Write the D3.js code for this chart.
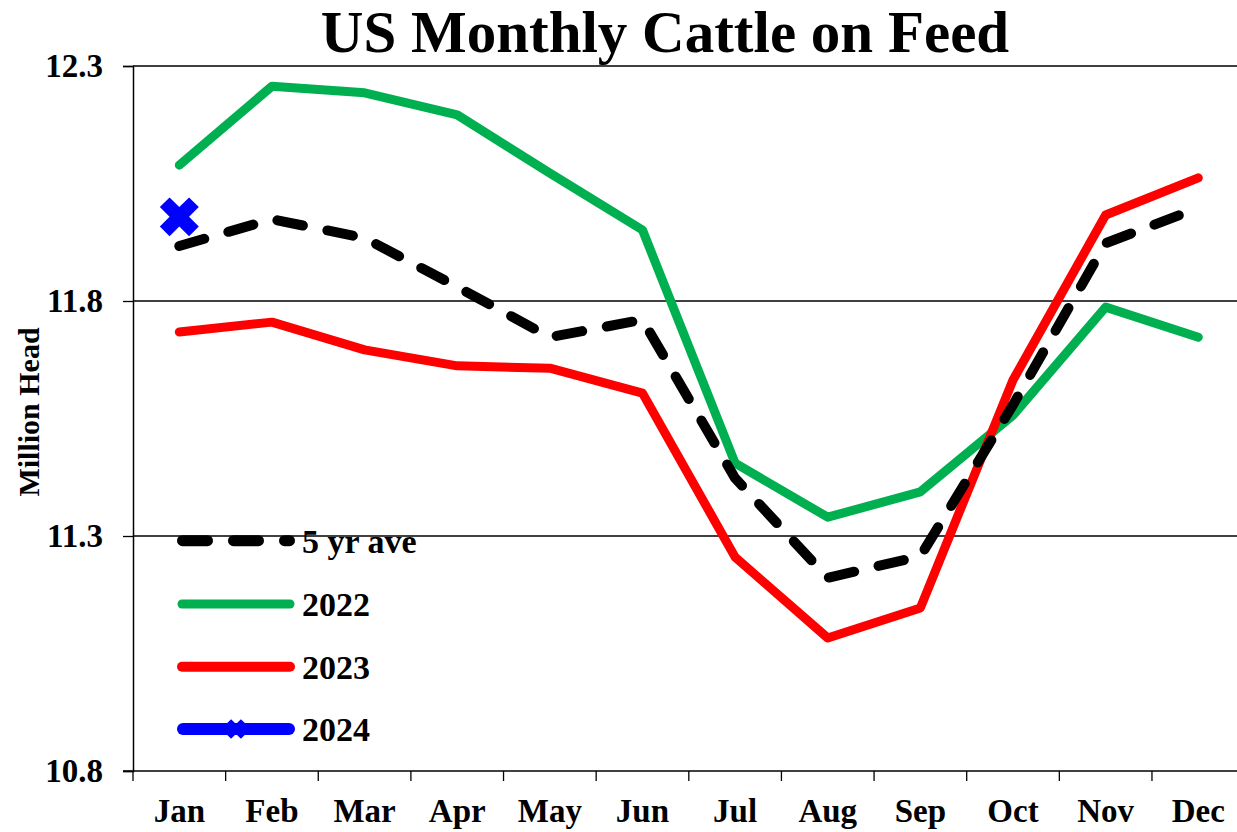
<!DOCTYPE html>
<html>
<head>
<meta charset="utf-8">
<script src="https://cdn.jsdelivr.net/npm/d3@7"></script>
<style>
  html, body { margin: 0; padding: 0; background: #fff; }
  svg { display: block; }
  text { font-family: "Liberation Serif", "Times New Roman", serif; font-weight: bold; fill: #000; }
</style>
</head>
<body>
<svg id="chart" width="1237" height="832"></svg>
<script>
const months = ["Jan","Feb","Mar","Apr","May","Jun","Jul","Aug","Sep","Oct","Nov","Dec"];
const yTicks = [10.8, 11.3, 11.8, 12.3];
const fiveYrAve = [11.917, 11.974, 11.934, 11.830, 11.723, 11.760, 11.423, 11.211, 11.257, 11.579, 11.923, 11.998];
const y2022 = [12.089, 12.257, 12.243, 12.196, 12.072, 11.951, 11.455, 11.340, 11.394, 11.557, 11.787, 11.723];
const y2023 = [11.734, 11.755, 11.696, 11.662, 11.657, 11.604, 11.255, 11.083, 11.147, 11.632, 11.983, 12.062];
const y2024 = [11.979];
const legendLabels = ["5 yr ave", "2022", "2023", "2024"];

(function () {
const svg = d3.select("#chart");
const W = 1237;
const pLeft = 133, pRight = 1244.6, pTop = 66, pBottom = 771;

const x = d3.scaleBand().domain(months).range([pLeft, pRight]).padding(0);
const cx = m => x(m) + x.bandwidth() / 2;
const y = d3.scaleLinear().domain([10.8, 12.3]).range([pBottom, pTop]);

// gridlines
svg.append("g").selectAll("line").data(yTicks.filter(v => v > 10.8)).join("line")
  .attr("x1", pLeft).attr("x2", W).attr("y1", d => y(d)).attr("y2", d => y(d))
  .attr("stroke", "#000").attr("stroke-width", 1.3);

// y axis
const yAxis = svg.append("g").attr("transform", `translate(${pLeft},0)`)
  .call(d3.axisLeft(y).tickValues(yTicks).tickSize(10).tickPadding(20).tickFormat(d3.format(".1f")));
yAxis.select(".domain").attr("stroke", "#000").attr("stroke-width", 1.5);
yAxis.selectAll(".tick line").attr("stroke", "#000").attr("stroke-width", 1.3);
yAxis.selectAll(".tick text").attr("font-size", 33).attr("font-family", null).attr("dy", "0.33em");

// x axis
const xAxis = svg.append("g").attr("transform", `translate(0,${pBottom})`)
  .call(d3.axisBottom(x).tickSize(0).tickPadding(0));
xAxis.select(".domain").remove();
xAxis.selectAll(".tick text").attr("font-size", 33).attr("font-family", null).attr("dy", null).attr("y", 51);
svg.append("line").attr("x1", pLeft - 10).attr("x2", W).attr("y1", pBottom).attr("y2", pBottom)
  .attr("stroke", "#000").attr("stroke-width", 1.5);
const edges = months.map(m => x(m)).concat([pRight]);
svg.append("g").selectAll("line").data(edges).join("line")
  .attr("x1", d => d).attr("x2", d => d).attr("y1", pBottom).attr("y2", pBottom + 10)
  .attr("stroke", "#000").attr("stroke-width", 1.3);

// y axis title
svg.append("text").attr("transform", `translate(39,412) rotate(-90)`)
  .attr("text-anchor", "middle").attr("font-size", 30).text("Million Head");

// title
svg.append("text").attr("x", 665).attr("y", 52).attr("text-anchor", "middle")
  .attr("font-size", 59).text("US Monthly Cattle on Feed");

const line = d3.line().x((d, i) => cx(months[i])).y(d => y(d));

svg.append("path").datum(y2022).attr("d", line).attr("fill", "none")
  .attr("stroke", "#00B050").attr("stroke-width", 9).attr("stroke-linejoin", "round").attr("stroke-linecap", "round");
svg.append("path").datum(y2023).attr("d", line).attr("fill", "none")
  .attr("stroke", "#FF0000").attr("stroke-width", 9).attr("stroke-linejoin", "round").attr("stroke-linecap", "round");
svg.append("path").datum(fiveYrAve).attr("d", line).attr("fill", "none")
  .attr("stroke", "#000").attr("stroke-width", 10).attr("stroke-dasharray", "26 25")
  .attr("stroke-linejoin", "round").attr("stroke-linecap", "round");

const xMark = d3.symbol().type(d3.symbolCross);
svg.append("g").selectAll("path").data(y2024).join("path")
  .attr("d", xMark.size(950)())
  .attr("transform", (d, i) => `translate(${cx(months[i])},${y(d)}) rotate(45)`)
  .attr("fill", "#0000FF");

// legend
const legY = [540.7, 604, 666.7, 729];
const lg = svg.append("g");
lg.append("line").attr("x1", 182.5).attr("x2", 289.5).attr("y1", legY[0]).attr("y2", legY[0])
  .attr("stroke", "#000").attr("stroke-width", 11).attr("stroke-dasharray", "25 26").attr("stroke-linecap", "round");
lg.append("line").attr("x1", 182).attr("x2", 290).attr("y1", legY[1]).attr("y2", legY[1])
  .attr("stroke", "#00B050").attr("stroke-width", 9).attr("stroke-linecap", "round");
lg.append("line").attr("x1", 182).attr("x2", 290).attr("y1", legY[2]).attr("y2", legY[2])
  .attr("stroke", "#FF0000").attr("stroke-width", 10).attr("stroke-linecap", "round");
lg.append("line").attr("x1", 183).attr("x2", 289).attr("y1", legY[3]).attr("y2", legY[3])
  .attr("stroke", "#0000FF").attr("stroke-width", 12).attr("stroke-linecap", "round");
lg.append("path").attr("d", xMark.size(240)())
  .attr("transform", `translate(236,${legY[3]}) rotate(45)`).attr("fill", "#0000FF");
lg.selectAll("text").data(legendLabels).join("text")
  .attr("x", 302).attr("y", (d, i) => legY[i] + 12).attr("font-size", 34).text(d => d);
})();
</script>
</body>
</html>
